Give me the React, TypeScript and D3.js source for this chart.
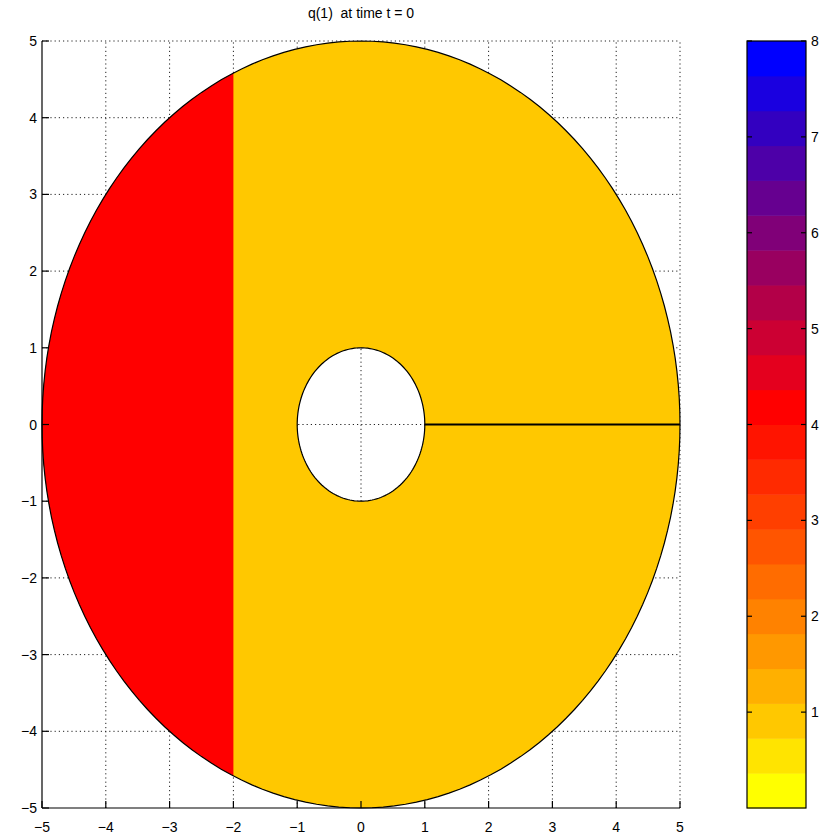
import * as d3 from "d3";

// problem values
const outerRadius = 5;
const innerRadius = 1;
const splitX = -2; // q changes here
const qLeft = 4;
const qRight = 1;
const cutFrom = 1; // branch cut along y = 0
const cutTo = 5;

const xTicks = [-5, -4, -3, -2, -1, 0, 1, 2, 3, 4, 5];
const yTicks = [-5, -4, -3, -2, -1, 0, 1, 2, 3, 4, 5];
const cbTicks = [1, 2, 3, 4, 5, 6, 7, 8];
const cbDomain = [0, 8];

// colormap bands, bottom to top
const cmap = [
  "#ffff00", "#ffe400", "#ffc800", "#ffb000", "#ff9800", "#ff8200",
  "#ff6c00", "#ff5500", "#ff3f00", "#ff2a00", "#ff1400", "#ff0000",
  "#e4001e", "#cc0033", "#b30048", "#990060", "#800078", "#660090",
  "#4d00a8", "#3300c0", "#1a00e0", "#0000ff",
];

const title = "q(1)\u00a0\u00a0at time t = 0";

export default function App() {
  const width = 834;
  const height = 840;
  const font = "Liberation Sans, Arial, sans-serif";

  const x = d3.scaleLinear().domain([-5, 5]).range([42, 680]);
  const y = d3.scaleLinear().domain([-5, 5]).range([808, 41]);
  const cy = d3.scaleLinear().domain(cbDomain).range([808, 41]);
  const color = d3.scaleQuantize<string>().domain(cbDomain).range(cmap);

  const angles = d3.range(0, 361, 2).map((a) => (a * Math.PI) / 180);
  const ring = (r: number) =>
    d3.line<number>()
      .x((t) => x(r * Math.cos(t)))
      .y((t) => y(r * Math.sin(t)))(angles) + "Z";
  const outer = ring(outerRadius);
  const inner = ring(innerRadius);

  const bandH = (cy(cbDomain[0]) - cy(cbDomain[1])) / cmap.length;
  const gridDash = "1.2,3";

  return (
    <svg width={width} height={height} style={{ position: "absolute", left: 0, top: 0, background: "#fff" }}>
      <defs>
        <clipPath id="leftPart">
          <rect x={x(-5) - 2} y={y(5) - 2} width={x(splitX) - x(-5) + 2} height={y(-5) - y(5) + 4} />
        </clipPath>
      </defs>

      {/* grid */}
      <g stroke="#222" strokeWidth={1} strokeDasharray={gridDash}>
        {xTicks.filter((t) => t !== -5).map((t) => (
          <line key={"gx" + t} x1={x(t)} x2={x(t)} y1={y(-5)} y2={y(5)} />
        ))}
        {yTicks.filter((t) => t !== -5).map((t) => (
          <line key={"gy" + t} x1={x(-5)} x2={x(5)} y1={y(t)} y2={y(t)} />
        ))}
      </g>

      {/* annulus */}
      <path d={outer + inner} fill={color(qRight)} fillRule="evenodd" />
      <path d={outer + inner} fill={color(qLeft)} fillRule="evenodd" clipPath="url(#leftPart)" />
      <path d={outer} fill="none" stroke="#000" strokeWidth={1.2} />
      <path d={inner} fill="none" stroke="#000" strokeWidth={1.2} />
      <line x1={x(cutFrom)} x2={x(cutTo)} y1={y(0)} y2={y(0)} stroke="#000" strokeWidth={2} />

      {/* axes */}
      <g stroke="#000" strokeWidth={1.2}>
        <line x1={x(-5)} x2={x(-5)} y1={y(-5)} y2={y(5)} />
        <line x1={x(-5)} x2={x(5)} y1={y(-5)} y2={y(-5)} />
        {xTicks.map((t) => (
          <line key={"tx" + t} x1={x(t)} x2={x(t)} y1={y(-5)} y2={y(-5) - 7} />
        ))}
        {yTicks.map((t) => (
          <line key={"ty" + t} x1={x(-5)} x2={x(-5) + 7} y1={y(t)} y2={y(t)} />
        ))}
      </g>
      <g fontFamily={font} fontSize={14} fill="#000">
        {xTicks.map((t) => (
          <text key={"lx" + t} x={x(t)} y={y(-5) + 24} textAnchor="middle">
            {t < 0 ? "\u2212" + Math.abs(t) : t}
          </text>
        ))}
        {yTicks.map((t) => (
          <text key={"ly" + t} x={x(-5) - 5} y={y(t) + 5} textAnchor="end">
            {t < 0 ? "\u2212" + Math.abs(t) : t}
          </text>
        ))}
        <text x={x(0)} y={18} textAnchor="middle">{title}</text>
      </g>

      {/* colorbar */}
      <g>
        {cmap.map((c, i) => (
          <rect key={"cb" + i} x={747} width={59} y={cy(cbDomain[0]) - (i + 1) * bandH} height={bandH + 0.5} fill={c} />
        ))}
        <rect x={747} width={59} y={cy(cbDomain[1])} height={cy(cbDomain[0]) - cy(cbDomain[1])} fill="none" stroke="#000" strokeWidth={1.2} />
        {cbTicks.map((t) => (
          <g key={"ct" + t} stroke="#000" strokeWidth={1.2}>
            <line x1={747} x2={752} y1={cy(t)} y2={cy(t)} />
            <line x1={801} x2={806} y1={cy(t)} y2={cy(t)} />
          </g>
        ))}
        {cbTicks.map((t) => (
          <text key={"cl" + t} x={811} y={cy(t) + 5} fontFamily={font} fontSize={14}>{t}</text>
        ))}
      </g>
    </svg>
  );
}
